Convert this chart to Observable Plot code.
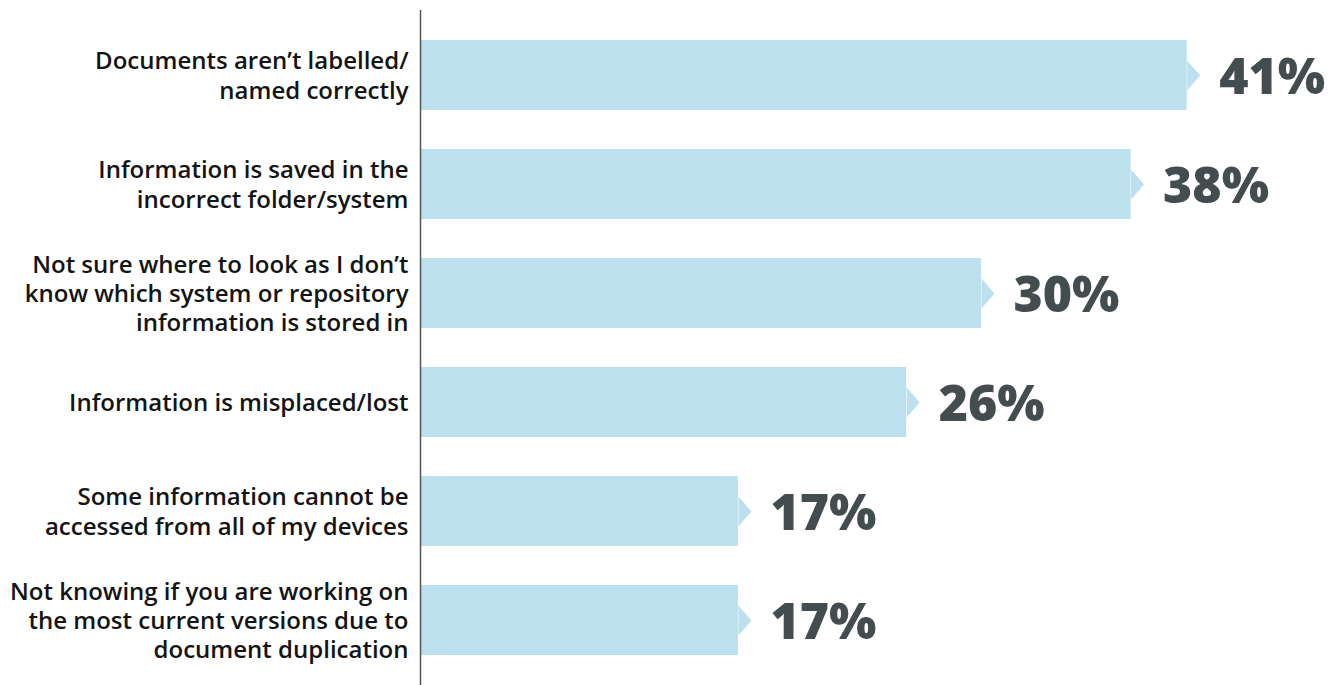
<!DOCTYPE html>
<html>
<head>
<meta charset="utf-8">
<script src="https://cdn.jsdelivr.net/npm/d3@7"></script>
<script src="https://cdn.jsdelivr.net/npm/@observablehq/plot@0.6"></script>
<style>
  html, body { margin: 0; padding: 0; background: #ffffff; }
  #chart { width: 1340px; height: 685px; }
</style>
</head>
<body>
<div id="chart"></div>
<script>
const categories = [
  "Documents aren’t labelled/\nnamed correctly",
  "Information is saved in the\nincorrect folder/system",
  "Not sure where to look as I don’t\nknow which system or repository\ninformation is stored in",
  "Information is misplaced/lost",
  "Some information cannot be\naccessed from all of my devices",
  "Not knowing if you are working on\nthe most current versions due to\ndocument duplication"
];
const values = [41, 38, 30, 26, 17, 17];
const valueLabels = ["41%", "38%", "30%", "26%", "17%", "17%"];

const data = categories.map((c, i) => ({category: c, value: values[i], label: valueLabels[i]}));

const arrow = {
  draw(ctx, size) {
    ctx.moveTo(0, -15);
    ctx.lineTo(13, 0);
    ctx.lineTo(0, 15);
    ctx.closePath();
  }
};

const chart = Plot.plot({
  width: 1340,
  height: 685,
  marginLeft: 420,
  marginRight: 0,
  marginTop: 10,
  marginBottom: 0,
  style: {background: "#ffffff"},
  x: {domain: [0, 49.2], axis: null},
  y: {domain: categories, axis: null, paddingInner: 0.36, paddingOuter: 0.262},
  marks: [
    Plot.barX(data, {x: "value", y: "category", fill: "#bde0ef"}),
    Plot.dot(data, {x: "value", y: "category", symbol: arrow, r: 10, fill: "#bde0ef", stroke: null}),
    Plot.text(data, {
      x: "value", y: "category", text: "label", textAnchor: "start", dx: 32, dy: 2,
      fontSize: 50, fontWeight: 800, fill: "#434d4f", fontFamily: "Open Sans",
      letterSpacing: 2
    }),
    Plot.text(data, {
      x: 0, y: "category", text: "category", textAnchor: "end", dx: -12, dy: -1,
      fontSize: 24, fontWeight: 600, lineHeight: 1.22, fill: "#141414", fontFamily: "Open Sans"
    }),
    Plot.ruleX([0], {stroke: "#555555", strokeWidth: 1.5})
  ]
});
document.getElementById("chart").append(chart);
</script>
</body>
</html>
